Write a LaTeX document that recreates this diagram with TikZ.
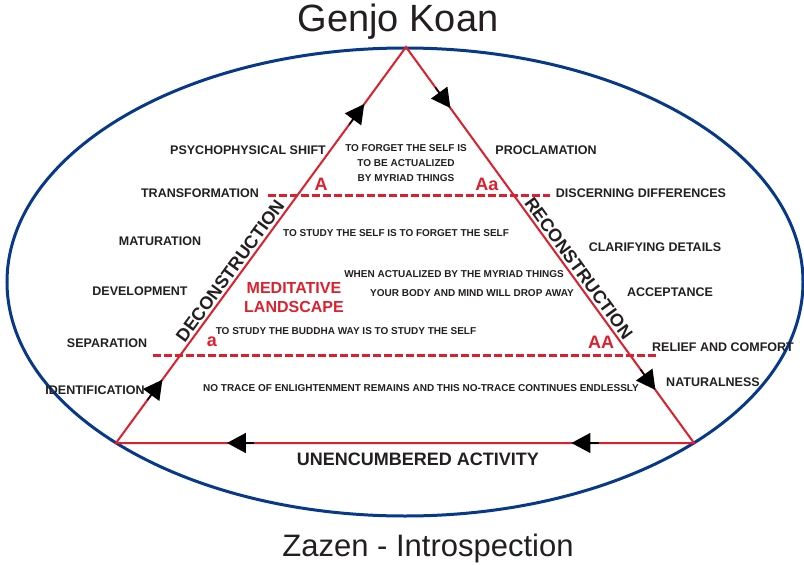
\documentclass[tikz,border=0pt]{standalone}
\usepackage{fontspec}
\setmainfont{Liberation Sans}
\usetikzlibrary{arrows.meta,calc}
\definecolor{zenred}{RGB}{220,32,45}
\definecolor{zenblue}{RGB}{8,56,136}
\definecolor{zentext}{RGB}{35,31,32}

\begin{document}
\begin{tikzpicture}[x=1pt,y=-1pt,
  stagelabel/.style={font=\bfseries\fontsize{12.5}{14}\selectfont,text=zentext,inner sep=0pt},
  koanline/.style={font=\bfseries\fontsize{10}{15}\selectfont,text=zentext,inner sep=0pt,align=center},
  redtag/.style={font=\bfseries\fontsize{18}{19}\selectfont,text=zenred,inner sep=0pt,align=center},
  sidelabel/.style={font=\bfseries\fontsize{18}{20}\selectfont,text=zentext,inner sep=0pt,sloped,above=3pt},
  flowarrow/.style={black,line width=1.5pt,-{Triangle[length=19pt,width=20pt]}},
  divider/.style={zenred,line width=3pt,dash pattern=on 8pt off 3pt}]
\useasboundingbox (0,0) rectangle (804,565);
% titles
\node[font=\fontsize{38}{40}\selectfont,text=zentext] (genjo) at (398,22) {Genjo Koan};
\node[font=\fontsize{31}{33}\selectfont,text=zentext] (zazen) at (428,548) {Zazen - Introspection};
% ellipse
\draw[zenblue,line width=3pt] (405,282) ellipse [x radius=398pt, y radius=234pt];
% triangle
\coordinate (apex) at (406,47);
\coordinate (left) at (116,443);
\coordinate (right) at (694,443);
\draw[zenred,line width=2pt] (left) -- (apex) -- (right) -- cycle;
\path (left) -- (apex)
        node[sidelabel,pos=.42] (decon) {DECONSTRUCTION};
\path (apex) -- (right)
        node[sidelabel,pos=.573] (recon) {RECONSTRUCTION};
\node[font=\bfseries\fontsize{18}{20}\selectfont,text=zentext,inner sep=0pt]
  (unenc) at (418,459) {UNENCUMBERED ACTIVITY};
% arrows on the sides
\draw[flowarrow] ($(left)!.108!(apex)$) -- ($(left)!.16!(apex)$);
\draw[flowarrow] ($(left)!.804!(apex)$) -- ($(left)!.856!(apex)$);
\draw[flowarrow] ($(apex)!.102!(right)$) -- ($(apex)!.154!(right)$);
\draw[flowarrow] ($(apex)!.814!(right)$) -- ($(apex)!.866!(right)$);
\draw[flowarrow] ($(right)!.165!(left)$) -- ($(right)!.212!(left)$);
\draw[flowarrow] ($(right)!.761!(left)$) -- ($(right)!.808!(left)$);
% dashed levels
\draw[divider] (268,195) -- (550,195);
\draw[divider] (153,355) -- (656,355);
\node[redtag] (bigA) at (321,184) {A};
\node[redtag] (bigAa) at (487,184) {Aa};
\node[redtag] (smalla) at (212,342) {a};
\node[redtag] (bigAA) at (601,342) {AA};
\node[redtag,font=\bfseries\fontsize{16}{19}\selectfont] (medit) at (294,298) {MEDITATIVE\\LANDSCAPE};
% stages, left
\node[stagelabel] (psych) at (248,150) {PSYCHOPHYSICAL SHIFT};
\node[stagelabel] (transf) at (200,193) {TRANSFORMATION};
\node[stagelabel] (matur) at (160,241) {MATURATION};
\node[stagelabel] (devel) at (140,291) {DEVELOPMENT};
\node[stagelabel] (separ) at (107,343) {SEPARATION};
\node[stagelabel] (ident) at (95,390) {IDENTIFICATION};
% stages, right
\node[stagelabel] (procl) at (546,150) {PROCLAMATION};
\node[stagelabel] (discern) at (641,193) {DISCERNING DIFFERENCES};
\node[stagelabel] (clarif) at (655,247) {CLARIFYING DETAILS};
\node[stagelabel] (accept) at (670,292) {ACCEPTANCE};
\node[stagelabel] (relief) at (723,347) {RELIEF AND COMFORT};
\node[stagelabel] (natural) at (713,382) {NATURALNESS};
% koan lines
\node[koanline] (forget) at (406,163) {TO FORGET THE SELF IS\\TO BE ACTUALIZED\\BY MYRIAD THINGS};
\node[koanline] (studyself) at (396,233) {TO STUDY THE SELF IS TO FORGET THE SELF};
\node[koanline] (when) at (454,274) {WHEN ACTUALIZED BY THE MYRIAD THINGS};
\node[koanline] (body) at (472,293) {YOUR BODY AND MIND WILL DROP AWAY};
\node[koanline] (buddha) at (346,331) {TO STUDY THE BUDDHA WAY IS TO STUDY THE SELF};
\node[koanline] (notrace) at (421,388) {NO TRACE OF ENLIGHTENMENT REMAINS AND THIS NO-TRACE CONTINUES ENDLESSLY};
\end{tikzpicture}
\end{document}
